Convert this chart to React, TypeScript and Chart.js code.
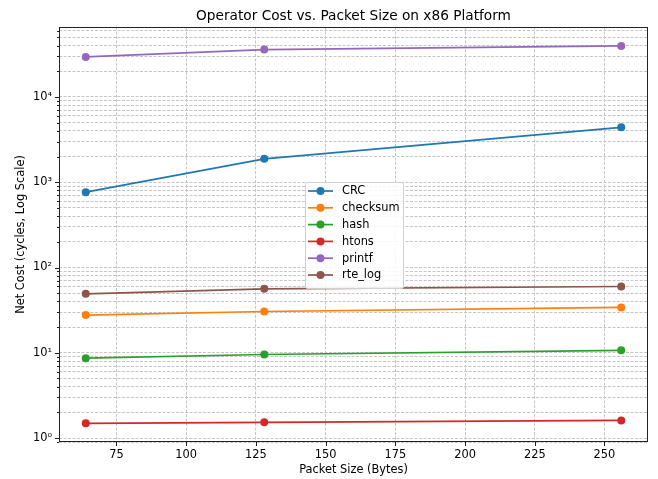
import React, { useEffect, useRef } from "react";
import { Chart, registerables } from "chart.js";

Chart.register(...registerables);

const packetSizes = [64, 128, 256];
const seriesNames = ["CRC", "checksum", "hash", "htons", "printf", "rte_log"];
const crc = [765, 1880, 4400];
const checksum = [27.7, 30.5, 34.0];
const hash = [8.65, 9.55, 10.7];
const htons = [1.49, 1.53, 1.61];
const printfCost = [29400, 35900, 39600];
const rteLog = [49.2, 56.2, 59.9];
const seriesValues = [crc, checksum, hash, htons, printfCost, rteLog];
const seriesColors = ["#1f77b4", "#ff7f0e", "#2ca02c", "#d62728", "#9467bd", "#8c564b"];
const xTicks = [75, 100, 125, 150, 175, 200, 225, 250];
const xMin = 54.4;
const xMax = 265.6;
const yMin = 0.9;
const yMax = 66000;

const FONT = "DejaVu Sans";
const TICK_SIZE = 11.4;
const TITLE_SIZE = 13.7;
const SUP: Record<string, string> = { "0": "⁰", "1": "¹", "2": "²", "3": "³", "4": "⁴", "5": "⁵", "-": "⁻" };

function isDecade(v: number) {
  const l = Math.log10(v);
  return Math.abs(l - Math.round(l)) < 1e-9;
}
function decadeLabel(v: number) {
  const e = String(Math.round(Math.log10(v)));
  return "10" + e.split("").map((c) => SUP[c] || c).join("");
}

const overlayPlugin = {
  id: "overlay",
  afterDraw(chart: any) {
    const ctx = chart.ctx;
    const ca = chart.chartArea;
    const xs = chart.scales.x;
    const ys = chart.scales.y;
    ctx.save();
    // frame
    ctx.strokeStyle = "#222";
    ctx.lineWidth = 1;
    ctx.strokeRect(Math.round(ca.left) + 0.5, Math.round(ca.top) + 0.5, Math.round(ca.right - ca.left) - 1, Math.round(ca.bottom - ca.top) - 1);
    // x tick marks
    ctx.beginPath();
    xs.ticks.forEach((t: any) => {
      const px = Math.round(xs.getPixelForValue(t.value)) + 0.5;
      ctx.moveTo(px, ca.bottom);
      ctx.lineTo(px, ca.bottom + 4);
    });
    // y tick marks
    ys.ticks.forEach((t: any) => {
      const py = Math.round(ys.getPixelForValue(t.value)) + 0.5;
      const len = isDecade(t.value) ? 4 : 2;
      ctx.moveTo(ca.left, py);
      ctx.lineTo(ca.left - len, py);
    });
    ctx.stroke();
    // title
    ctx.fillStyle = "#000";
    ctx.font = `${TITLE_SIZE}px '${FONT}'`;
    ctx.textAlign = "center";
    ctx.textBaseline = "middle";
    ctx.fillText("Operator Cost vs. Packet Size on x86 Platform", (ca.left + ca.right) / 2, 16);
    // legend
    const bx = 305, by = 182, bw = 98, bh = 106;
    ctx.fillStyle = "rgba(255,255,255,0.85)";
    ctx.strokeStyle = "#d0d0d0";
    ctx.lineWidth = 1;
    ctx.beginPath();
    (ctx as any).roundRect(bx + 0.5, by + 0.5, bw, bh, 2);
    ctx.fill();
    ctx.stroke();
    ctx.font = `${TICK_SIZE}px '${FONT}'`;
    ctx.textAlign = "left";
    chart.data.datasets.forEach((ds: any, i: number) => {
      const y = by + 9 + i * 16.8;
      ctx.strokeStyle = ds.borderColor;
      ctx.lineWidth = 1.7;
      ctx.beginPath();
      ctx.moveTo(bx + 3, y);
      ctx.lineTo(bx + 28, y);
      ctx.stroke();
      ctx.fillStyle = ds.backgroundColor;
      ctx.beginPath();
      ctx.arc(bx + 15.5, y, 4, 0, Math.PI * 2);
      ctx.fill();
      ctx.fillStyle = "#000";
      ctx.fillText(ds.label, bx + 37, y + 0.5);
    });
    ctx.restore();
  },
};

export default function App() {
  const ref = useRef<HTMLCanvasElement | null>(null);
  useEffect(() => {
    document.body.style.margin = "0";
    const canvas = ref.current!;
    const chart = new Chart(canvas, {
      type: "line",
      data: {
        datasets: seriesNames.map((name, i) => ({
          label: name,
          data: packetSizes.map((x, j) => ({ x, y: seriesValues[i][j] })),
          borderColor: seriesColors[i],
          backgroundColor: seriesColors[i],
          pointBackgroundColor: seriesColors[i],
          pointBorderColor: seriesColors[i],
          pointRadius: 4,
          pointBorderWidth: 0,
          borderWidth: 1.7,
          tension: 0,
          fill: false,
        })),
      },
      options: {
        responsive: false,
        animation: false,
        events: [],
        layout: { padding: { top: 27, right: 10, left: 0, bottom: 0 } },
        plugins: {
          legend: { display: false },
          title: { display: false },
          tooltip: { enabled: false },
        },
        scales: {
          x: {
            type: "linear",
            min: xMin,
            max: xMax,
            afterBuildTicks: (s: any) => {
              s.ticks = xTicks.map((v) => ({ value: v }));
            },
            afterFit: (s: any) => {
              s.height = 37;
            },
            grid: {
              color: "#c6c6c6",
              lineWidth: 1,
              drawTicks: false,
            },
            border: { display: false, dash: [3, 1.5] },
            ticks: {
              autoSkip: false,
              maxRotation: 0,
              padding: 6,
              color: "#000",
              font: { family: FONT, size: TICK_SIZE },
              callback: (v: any) => String(v),
            },
            title: {
              display: true,
              text: "Packet Size (Bytes)",
              color: "#000",
              font: { family: FONT, size: TICK_SIZE },
              padding: { top: 0, bottom: 2 },
            },
          },
          y: {
            type: "logarithmic",
            min: yMin,
            max: yMax,
            afterBuildTicks: (s: any) => {
              const t: any[] = [];
              for (let e = -1; e <= 5; e++) {
                for (let m = 1; m <= 9; m++) {
                  const v = m * Math.pow(10, e);
                  if (v >= yMin && v <= yMax) t.push({ value: v, major: m === 1 });
                }
              }
              s.ticks = t;
            },
            afterFit: (s: any) => {
              s.width = 59;
            },
            grid: {
              color: "#c6c6c6",
              lineWidth: 1,
              drawTicks: false,
            },
            border: { display: false, dash: [3, 1.5] },
            ticks: {
              autoSkip: false,
              padding: 7,
              color: "#000",
              font: { family: FONT, size: TICK_SIZE },
              callback: (v: any) => (isDecade(Number(v)) ? decadeLabel(Number(v)) : ""),
            },
            title: {
              display: true,
              text: "Net Cost (cycles, Log Scale)",
              color: "#000",
              font: { family: FONT, size: TICK_SIZE },
              padding: { top: 14, bottom: 0 },
            },
          },
        },
      } as any,
      plugins: [overlayPlugin],
    });
    return () => chart.destroy();
  }, []);
  return (
    <div style={{ position: "fixed", left: 0, top: 0, width: 658, height: 479, background: "#fff" }}>
      <canvas ref={ref} width={658} height={479} style={{ width: 658, height: 479 }} />
    </div>
  );
}
